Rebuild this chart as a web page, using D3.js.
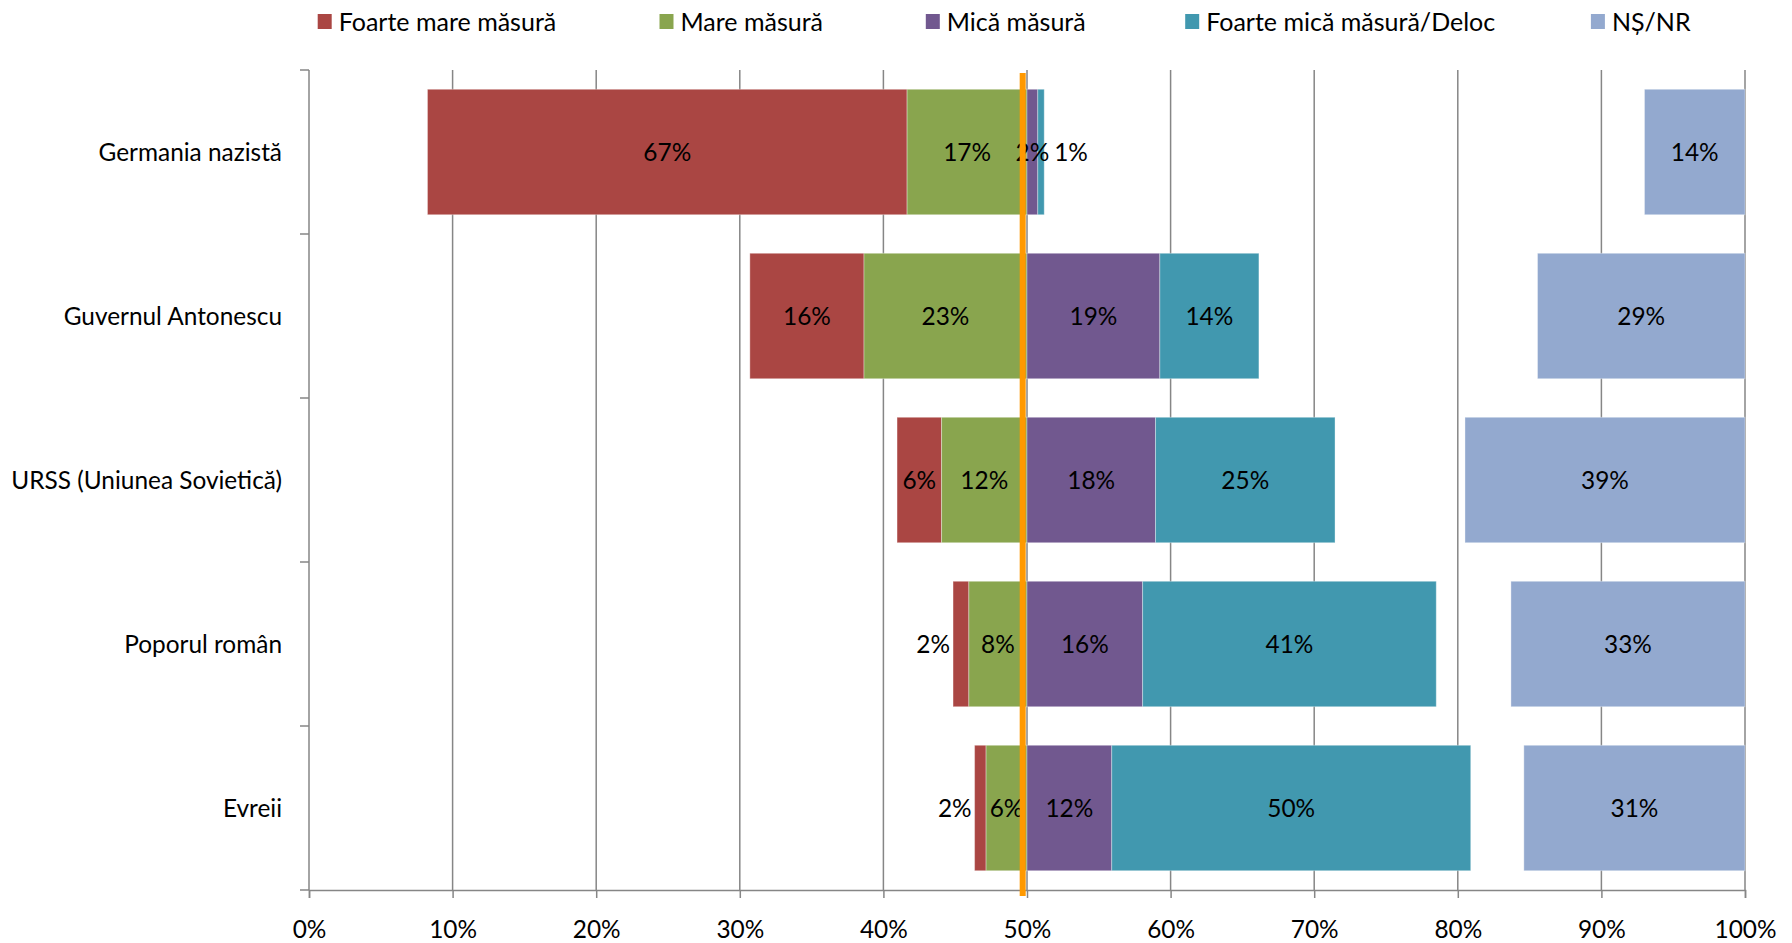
<!DOCTYPE html>
<html>
<head>
<meta charset="utf-8">
<script src="https://cdn.jsdelivr.net/npm/d3@7"></script>
<style>
  html, body { margin: 0; padding: 0; background: #fff; }
  svg { display: block; font-family: Lato, "Open Sans", sans-serif; }
</style>
</head>
<body>
<svg id="chart" width="1792" height="943"></svg>
<script>
// ---- Data (percent values) ----
const categories = ["Germania nazistă", "Guvernul Antonescu", "URSS (Uniunea Sovietică)", "Poporul român", "Evreii"];
const seriesNames = ["Foarte mare măsură", "Mare măsură", "Mică măsură", "Foarte mică măsură/Deloc", "NȘ/NR"];
const foarteMare = [66.8, 15.9, 6.2, 2.2, 1.6];
const mare       = [16.7, 22.7, 11.9, 8.1, 5.7];
const mica       = [1.5, 18.5, 17.9, 16.1, 11.8];
const foarteMica = [0.9, 13.8, 25.0, 40.9, 50.0];
const nsnr       = [14.0, 28.9, 39.0, 32.6, 30.8];
const xTicks = [0, 10, 20, 30, 40, 50, 60, 70, 80, 90, 100];
const midpoint = 50;
const referenceLine = 49.7;
const colors = ["#AA4643", "#89A54E", "#71588F", "#4198AF", "#93A9CF"];

// ---- Layout ----
const svg = d3.select("#chart");
const plot = { left: 309, right: 1745, top: 70, bottom: 890 };
const x = d3.scaleLinear().domain([0, 100]).range([plot.left, plot.right]);
const yAxisBand = d3.scaleBand().domain(categories).range([plot.top, plot.bottom]).padding(0);
const yBar = d3.scaleBand().domain(categories).range([plot.top, plot.bottom])
  .paddingInner(0.235).paddingOuter(0.1175);
const axisColor = "#868686";
const fs = 25;
const fsCat = 24.4;
const fmt = v => d3.format(".0f")(v) + "%";

// gridlines
svg.append("g").selectAll("line").data(xTicks.filter(d => d > 0)).join("line")
  .attr("x1", d => x(d)).attr("x2", d => x(d))
  .attr("y1", plot.top).attr("y2", plot.bottom)
  .attr("stroke", axisColor).attr("stroke-width", 1.5);

// ---- Segments ----
const segs = [];
categories.forEach((c, i) => {
  const halfMare = mare[i] / 2, halfFM = foarteMare[i] / 2;
  const halfMica = mica[i] / 2, halfFMica = foarteMica[i] / 2, halfNs = nsnr[i] / 2;
  segs.push({ cat: c, s: 0, v: foarteMare[i], x0: midpoint - halfMare - halfFM, x1: midpoint - halfMare });
  segs.push({ cat: c, s: 1, v: mare[i], x0: midpoint - halfMare, x1: midpoint });
  segs.push({ cat: c, s: 2, v: mica[i], x0: midpoint, x1: midpoint + halfMica });
  segs.push({ cat: c, s: 3, v: foarteMica[i], x0: midpoint + halfMica, x1: midpoint + halfMica + halfFMica });
  segs.push({ cat: c, s: 4, v: nsnr[i], x0: 100 - halfNs, x1: 100 });
});

svg.append("g").selectAll("rect").data(segs).join("rect")
  .attr("x", d => x(d.x0))
  .attr("width", d => x(d.x1) - x(d.x0))
  .attr("y", d => yBar(d.cat))
  .attr("height", yBar.bandwidth())
  .attr("fill", d => colors[d.s])
  .attr("stroke", "rgba(255,255,255,0.35)")
  .attr("stroke-width", 1);

// labels
svg.append("g").selectAll("text").data(segs).join("text")
  .each(function(d) {
    const w = x(d.x1) - x(d.x0);
    const t = d3.select(this);
    let px = (x(d.x0) + x(d.x1)) / 2, anchor = "middle";
    if (d.s === 0 && w < 20) { px = x(d.x0) - 3; anchor = "end"; }
    if (d.s === 3 && w < 20) { px = x(d.x1) + 10; anchor = "start"; }
    t.attr("x", px).attr("text-anchor", anchor);
  })
  .attr("y", d => yBar(d.cat) + yBar.bandwidth() / 2)
  .attr("dy", "0.36em")
  .attr("font-size", fsCat)
  .attr("fill", "#000")
  .text(d => fmt(d.v));

// ---- Axes ----
// Y axis
const yAxisG = svg.append("g");
yAxisG.append("line")
  .attr("x1", plot.left).attr("x2", plot.left)
  .attr("y1", plot.top).attr("y2", plot.bottom)
  .attr("stroke", axisColor).attr("stroke-width", 1.5);
const boundaries = categories.map(c => yAxisBand(c)).concat([plot.bottom]);
yAxisG.selectAll("line.tick").data(boundaries).join("line").attr("class", "tick")
  .attr("x1", plot.left - 9).attr("x2", plot.left)
  .attr("y1", d => d).attr("y2", d => d)
  .attr("stroke", axisColor).attr("stroke-width", 1.5);
yAxisG.selectAll("text").data(categories).join("text")
  .attr("x", 282)
  .attr("y", d => yAxisBand(d) + yAxisBand.bandwidth() / 2)
  .attr("dy", "0.36em")
  .attr("text-anchor", "end")
  .attr("font-size", fsCat)
  .attr("fill", "#000")
  .text(d => d);

// X axis
const xAxis = d3.axisBottom(x).tickValues(xTicks).tickSize(8).tickPadding(23).tickFormat(d => d + "%");
const xg = svg.append("g").attr("transform", `translate(0,${plot.bottom})`).call(xAxis);
xg.select(".domain").attr("stroke", axisColor).attr("stroke-width", 1.5);
xg.selectAll(".tick line").attr("stroke", axisColor).attr("stroke-width", 1.5);
xg.selectAll(".tick text").attr("font-size", fsCat).attr("font-family", "Lato, sans-serif").attr("fill", "#000");

// Reference line
svg.append("line")
  .attr("x1", x(referenceLine)).attr("x2", x(referenceLine))
  .attr("y1", 73).attr("y2", 896)
  .attr("stroke", "#FF9900").attr("stroke-width", 6);

// ---- Legend ----
const legendX = [317.7, 659.5, 925.8, 1185.2, 1590.9];
const lg = svg.append("g").selectAll("g").data(seriesNames).join("g")
  .attr("transform", (d, i) => `translate(${legendX[i]},14)`);
lg.append("rect").attr("width", 14).attr("height", 15).attr("fill", (d, i) => colors[i]);
lg.append("text").attr("x", 21).attr("y", 7.5).attr("dy", "0.36em")
  .attr("font-size", fs).attr("fill", "#000").text(d => d);
</script>
</body>
</html>
